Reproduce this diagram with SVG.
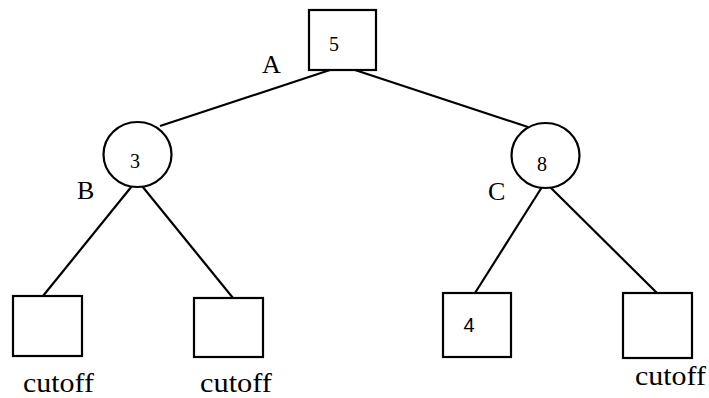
<svg xmlns="http://www.w3.org/2000/svg" width="709" height="398" viewBox="0 0 709 398">
<style>
.n{fill:#fff;stroke:#000;stroke-width:2.2}
.e{stroke:#000;stroke-width:2.2;fill:none}
.v{font-family:"Liberation Serif",serif;font-size:20px;fill:#000;text-anchor:middle}
.s{font-family:"Liberation Sans",sans-serif;font-size:20px;fill:#000;text-anchor:middle}
.l{font-family:"Liberation Serif",serif;font-size:26px;fill:#000}
.c{font-family:"Liberation Serif",serif;font-size:28px;fill:#000}
</style>
<rect width="709" height="398" fill="#fff"/>
<g id="edges">
<line class="e" x1="330" y1="70" x2="160" y2="126"/>
<line class="e" x1="355" y1="70" x2="528" y2="127"/>
<line class="e" x1="132" y1="186" x2="43" y2="296"/>
<line class="e" x1="142" y1="186" x2="233" y2="298"/>
<line class="e" x1="542" y1="187" x2="475" y2="293"/>
<line class="e" x1="550" y1="187" x2="657" y2="293"/>
</g>
<g id="root">
<rect class="n" x="309" y="10" width="67" height="60"/>
<text class="v" x="334" y="51">5</text>
</g>
<g id="nodeB">
<ellipse class="n" cx="137.5" cy="154.5" rx="34" ry="32.5"/>
<text class="v" x="135" y="168">3</text>
</g>
<g id="nodeC">
<ellipse class="n" cx="545.5" cy="155.5" rx="34" ry="32.5"/>
<text class="v" x="542" y="171">8</text>
</g>
<g id="leaf1">
<rect class="n" x="13" y="296" width="69" height="60"/>
<text class="c" x="23" y="392" textLength="71" lengthAdjust="spacingAndGlyphs">cutoff</text>
</g>
<g id="leaf2">
<rect class="n" x="194" y="298" width="69" height="59"/>
<text class="c" x="200" y="392" textLength="72" lengthAdjust="spacingAndGlyphs">cutoff</text>
</g>
<g id="leaf3">
<rect class="n" x="443" y="293" width="68" height="64"/>
<text class="s" x="469" y="332">4</text>
</g>
<g id="leaf4">
<rect class="n" x="623" y="293" width="69" height="65"/>
<text class="c" x="635" y="385" textLength="71" lengthAdjust="spacingAndGlyphs">cutoff</text>
</g>
<g id="labels">
<text class="l" x="262" y="73">A</text>
<text class="l" x="77" y="199">B</text>
<text class="l" x="488" y="200">C</text>
</g>
</svg>
